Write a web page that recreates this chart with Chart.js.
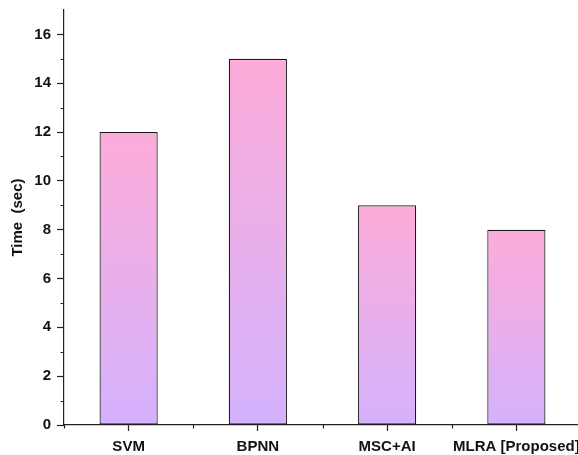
<!DOCTYPE html>
<html>
<head>
<meta charset="utf-8">
<script src="https://cdn.jsdelivr.net/npm/chart.js@4/dist/chart.umd.min.js"></script>
<style>
  html, body { margin: 0; padding: 0; background: #fff; overflow: hidden; }
  #wrap { width: 581px; height: 455px; }
</style>
</head>
<body>
<div id="wrap"><canvas id="timeChart"></canvas></div>
<script>
// 데이터
const methods = ['SVM', 'BPNN', 'MSC+AI', 'MLRA [Proposed]'];
const timeSec = [12, 15, 9, 8];
const yMinorTicks = [1, 3, 5, 7, 9, 11, 13, 15];

const FONT = '"Liberation Sans", Arial, sans-serif';
const AXIS_COLOR = '#222';

// 막대 그라데이션 (막대마다 위: 분홍, 아래: 보라)
function barGradient(ctx) {
    const chart = ctx.chart;
    if (!chart.chartArea || ctx.parsed == null) return '#E9AEEC';
    const y = chart.scales.y;
    const top = y.getPixelForValue(ctx.parsed.y);
    const bottom = y.getPixelForValue(0);
    const g = chart.ctx.createLinearGradient(0, top, 0, bottom);
    g.addColorStop(0, '#FDACD9');
    g.addColorStop(1, '#D4B2FD');
    return g;
}

// 보조 눈금
const minorTicks = {
    id: 'minorTicks',
    afterDraw(chart) {
        const c = chart.ctx;
        const x = chart.scales.x;
        const y = chart.scales.y;
        const left = chart.chartArea.left;
        const bottom = chart.chartArea.bottom;
        c.save();
        c.strokeStyle = AXIS_COLOR;
        c.lineWidth = 1.2;
        c.beginPath();
        yMinorTicks.forEach(v => {
            const py = Math.round(y.getPixelForValue(v)) + 0.5;
            c.moveTo(left - 3.5, py);
            c.lineTo(left, py);
        });
        for (let i = 0; i <= methods.length; i++) {
            const px = Math.round(x.getPixelForValue(i - 0.5)) + 0.5;
            c.moveTo(px, bottom);
            c.lineTo(px, bottom + 3.5);
        }
        c.stroke();
        c.restore();
    }
};

new Chart(document.getElementById('timeChart'), {
    type: 'bar',
    data: {
        labels: methods,
        datasets: [{
            data: timeSec,
            backgroundColor: barGradient,
            borderColor: '#1a1a1a',
            borderWidth: 1.2,
            borderSkipped: false,
            barPercentage: 0.45,
            categoryPercentage: 1
        }]
    },
    options: {
        responsive: true,
        maintainAspectRatio: false,
        animation: false,
        layout: { padding: { top: 10, right: 0, left: 0, bottom: 0 } },
        plugins: {
            legend: { display: false },
            tooltip: { enabled: false }
        },
        scales: {
            x: {
                offset: true,
                grid: {
                    display: true,
                    offset: false,
                    drawOnChartArea: false,
                    drawTicks: true,
                    tickLength: 6,
                    tickColor: AXIS_COLOR,
                    tickWidth: 1.2
                },
                border: { display: true, color: AXIS_COLOR, width: 1.2 },
                ticks: {
                    color: '#111',
                    padding: 7,
                    maxRotation: 0,
                    autoSkip: false,
                    font: { family: FONT, size: 15, weight: 'bold' }
                },
                afterFit(scale) {
                    scale.height = 30;
                    scale.paddingLeft = 0;
                    scale.paddingRight = 0;
                }
            },
            y: {
                min: 0,
                max: 17,
                grid: {
                    display: true,
                    drawOnChartArea: false,
                    drawTicks: true,
                    tickLength: 7,
                    tickColor: AXIS_COLOR,
                    tickWidth: 1.2
                },
                border: { display: true, color: AXIS_COLOR, width: 1.2 },
                ticks: {
                    stepSize: 2,
                    includeBounds: false,
                    color: '#111',
                    padding: 6,
                    font: { family: FONT, size: 15, weight: 'bold' }
                },
                title: {
                    display: true,
                    text: 'Time  (sec)',
                    color: '#111',
                    padding: { top: 9, bottom: 0 },
                    font: { family: FONT, size: 15, weight: 'bold' }
                },
                afterFit(scale) {
                    scale.width = 64;
                    scale.paddingTop = 0;
                    scale.paddingBottom = 0;
                }
            }
        }
    },
    plugins: [minorTicks]
});
</script>
</body>
</html>
